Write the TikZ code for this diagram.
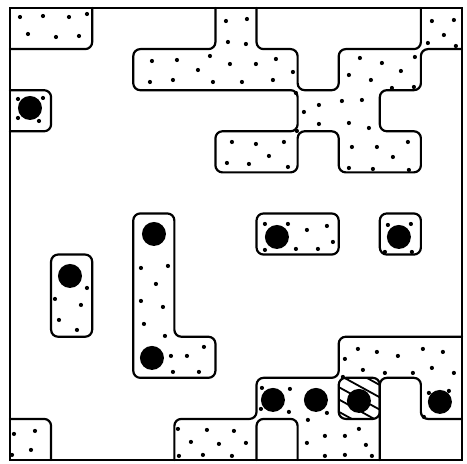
\documentclass[tikz,border=0pt]{standalone}
\usepackage{tikz}
\usetikzlibrary{calc}
\tikzset{
  rim/.style={line width=1.8pt,line join=miter},
  blob/.style={line width=2.2pt,rounded corners=7pt,line join=round,line cap=round},
  hatchline/.style={line width=1.8pt}
}

\begin{document}
\begin{tikzpicture}[x=41.1pt,y=-41.1pt]
  \useasboundingbox (-0.243,-0.195) rectangle (11.122,11.073);

  % board outline
  \draw[rim] (0,0) rectangle (11,11);

  % regions touching the board edge
  \draw[blob] (2,0) -- (2,1) -- (0,1);
  \draw[blob] (0,2) -- (1,2) -- (1,3) -- (0,3);
  \draw[blob] (0,10) -- (1,10) -- (1,11);

  % cross-shaped region at the top
  \draw[blob] (6,0) -- (6,1) -- (7,1) -- (7,2) -- (8,2) -- (8,1) -- (10,1) -- (10,0);
  \draw[blob] (5,0) -- (5,1) -- (3,1) -- (3,2) -- (7,2) -- (7,3) -- (5,3) -- (5,4)
    -- (7,4) -- (7,3) -- (8,3) -- (8,4) -- (10,4) -- (10,3) -- (9,3) -- (9,2)
    -- (10,2) -- (10,1) -- (11,1);

  % free regions
  \draw[blob] (1,6) rectangle (2,8);
  \draw[blob] (3,5) -- (4,5) -- (4,8) -- (5,8) -- (5,9) -- (3,9) -- cycle;
  \draw[blob] (6,5) rectangle (8,6);
  \draw[blob] (9,5) rectangle (10,6);

  % stepped region at the bottom
  \draw[blob] (4,11) -- (4,10) -- (6,10) -- (6,9) -- (8,9) -- (8,8) -- (11,8);
  \draw[blob] (6,11) -- (6,10) -- (7,10) -- (7,11);
  \draw[blob] (9,11) -- (9,9) -- (10,9) -- (10,10) -- (11,10);

  % hatched cell
  \begin{scope}
    \clip[rounded corners=7pt] (8,9) rectangle (9,10);
    \foreach \o in {-0.9,-0.6,-0.3,0,0.3,0.6,0.9}
      \draw[hatchline] ({7.5},{8.95+\o}) -- ({9.5},{10.05+\o});
  \end{scope}
  \draw[blob] (8,9) rectangle (9,10);

  % dots and pads, in pixel units
  \begin{scope}[x=1pt,y=-1pt,shift={(-10pt,8pt)}]
    \foreach \x/\y in {20/17,43/16,69/17,87/14,28/34,56/37,79/36,
        18/99,43/98,18/118,39/121,
        226/21,247/19,228/42,246/44,
        152/61,177/60,210/56,230/64,256/64,276/59,293/72,198/70,150/82,173/80,213/82,242/82,273/80,
        432/21,454/20,444/35,428/43,456/46,
        360/58,382/63,415/57,349/75,371/80,401/71,392/88,414/87,
        304/112,319/105,342/101,362/100,319/124,349/123,369/128,296/93,297/131,
        232/142,256/144,284/142,269/156,227/163,249/164,288/167,
        352/147,377/147,408/142,393/157,349/168,373/169,409/170,
        87/288,55/299,81/305,59/320,77/330,
        141/268,168/266,156/284,141/301,163/307,144/324,165/336,171/356,187/356,204/347,173/372,199/372,
        265/224,288/224,265/250,307/230,327/226,296/249,318/249,333/242,
        388/225,411/224,385/252,412/252,
        345/359,358/349,377/352,398/356,423/349,443/352,363/370,385/373,413/373,432/368,454/373,343/377,
        262/388,290/389,261/409,289/412,308/420,327/413,
        429/393,449/391,424/417,
        178/429,207/430,234/431,191/442,219/444,246/443,179/456,203/455,232/456,
        325/436,345/436,359/429,307/443,366/445,325/456,345/455,372/456,
        14/434,35/431,31/450,12/455}
      \fill (\x,\y) circle (2.1pt);
    \foreach \x/\y in {30/108,70/276,154/234,152/358,277/237,399/237,273/400,316/400,359/401,440/402}
      \fill (\x,\y) circle (12pt);
  \end{scope}
\end{tikzpicture}
\end{document}
